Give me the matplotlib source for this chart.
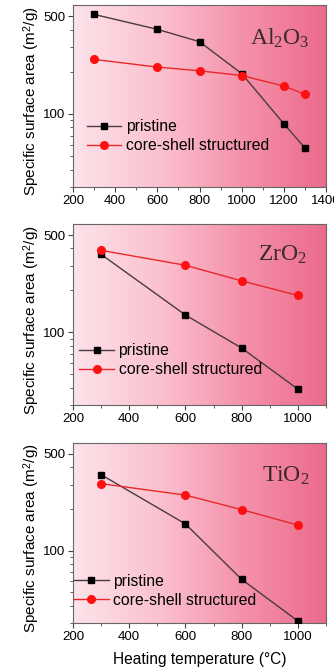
import matplotlib
matplotlib.use("Agg")
import matplotlib.pyplot as plt
import numpy as np
from matplotlib.colors import LinearSegmentedColormap
from matplotlib.ticker import FixedLocator, NullFormatter, MultipleLocator

plt.rcParams['font.family'] = ['Liberation Sans', 'DejaVu Sans']
plt.rcParams['mathtext.fontset'] = 'custom'
plt.rcParams['mathtext.rm'] = 'Liberation Serif'
plt.rcParams['mathtext.it'] = 'Liberation Serif:italic'
plt.rcParams['mathtext.sf'] = 'Liberation Sans'

# data
al_temp = [300, 600, 800, 1000, 1200, 1300]
al_pristine = [514, 402, 328, 194, 85, 57]
al_core = [245, 216, 203, 188, 158, 138]

zr_temp = [300, 600, 800, 1000]
zr_pristine = [363, 133, 77, 39]
zr_core = [388, 303, 234, 184]

ti_temp = [300, 600, 800, 1000]
ti_pristine = [354, 156, 62, 31]
ti_core = [305, 252, 198, 153]

names = [r'$\mathrm{Al_2O_3}$', r'$\mathrm{ZrO_2}$', r'$\mathrm{TiO_2}$']
xmax = [1400, 1100, 1100]

pink = LinearSegmentedColormap.from_list(
    'pink', ['#fde3ea', '#fbc2d0', '#f592ab', '#ec6b8c'])

fig = plt.figure(figsize=(3.34, 6.69), dpi=100)
W, H = 334, 669
boxes = [(73, 5, 326, 187), (73, 224, 326, 405), (73, 443, 326, 623)]
legend_pos = [(0.03, 0.15), (0.0, 0.12), (-0.02, 0.05)]
title_pos = [(0.935, 0.88), (0.925, 0.89), (0.935, 0.88)]

panels = [(al_temp, al_pristine, al_core),
          (zr_temp, zr_pristine, zr_core),
          (ti_temp, ti_pristine, ti_core)]

for i, (temp, pri, core) in enumerate(panels):
    l, t, r, b = boxes[i]
    ax = fig.add_axes([l / W, 1 - b / H, (r - l) / W, (b - t) / H])
    grad = np.linspace(0, 1, 256).reshape(1, -1)
    ax.imshow(grad, cmap=pink, aspect='auto', extent=[0, 1, 0, 1],
              transform=ax.transAxes, zorder=0)

    ax.plot(temp, pri, '-s', color='#4a3a40', lw=1, mfc='black', mec='black',
            ms=5, label='pristine', zorder=3)
    ax.plot(temp, core, '-o', color='#e8282a', lw=1, mfc='#ff1010', mec='#ff1010',
            ms=5.5, label='core-shell structured', zorder=3)

    ax.set_yscale('log')
    ax.set_ylim(30, 600)
    ax.set_xlim(200, xmax[i])
    ax.yaxis.set_major_locator(FixedLocator([100, 500]))
    ax.yaxis.set_minor_locator(FixedLocator([30, 40, 50, 60, 70, 80, 90,
                                             200, 300, 400]))
    ax.yaxis.set_minor_formatter(NullFormatter())
    ax.set_yticklabels(['100', '500'])
    ax.xaxis.set_major_locator(MultipleLocator(200))
    ax.xaxis.set_minor_locator(MultipleLocator(100))
    ax.tick_params(which='both', direction='out', top=False, right=False,
                   labelsize=9.5, color='#444', pad=2)
    ax.tick_params(which='major', length=3.5)
    ax.tick_params(which='minor', length=2)
    for s in ax.spines.values():
        s.set_color('#666')
        s.set_linewidth(0.8)

    ax.set_ylabel('Specific surface area (m$^\\mathsf{2}$/g)', fontsize=11,
                  labelpad=1)
    ax.yaxis.label.set_y(0.47)
    ax.text(title_pos[i][0], title_pos[i][1], names[i], transform=ax.transAxes,
            ha='right', va='top', fontsize=17, color='#3a2a2a')
    ax.legend(loc='lower left', bbox_to_anchor=legend_pos[i], frameon=False,
              fontsize=11.3, handlelength=2.2, handletextpad=0.3,
              labelspacing=0.25, borderaxespad=0)

ax.set_xlabel('Heating temperature (°C)', fontsize=11.2, labelpad=7)

fig.savefig('out.png', dpi=100)
